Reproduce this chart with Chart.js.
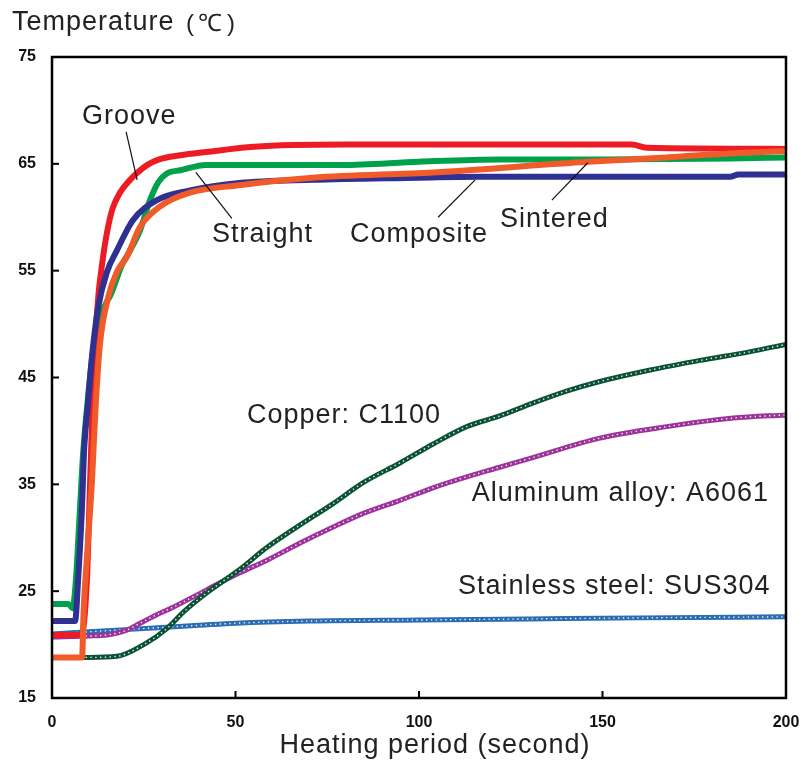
<!DOCTYPE html>
<html>
<head>
<meta charset="utf-8">
<script src="https://cdn.jsdelivr.net/npm/chart.js@4.4.1/dist/chart.umd.min.js"></script>
<style>
  html, body { margin: 0; padding: 0; background: #fff; }
  #wrap { width: 808px; height: 763px; }
</style>
</head>
<body>
<div id="wrap"><canvas id="tempChart" width="808" height="763"></canvas></div>
<script>
// data (time in s, temperature in deg C)
const grooveT = [0, 8, 9.5, 10.4, 11, 11.7, 12.6, 13.6, 15, 16.5, 18.5, 21, 23, 26, 29, 35, 42, 55, 80, 120, 158, 162, 200];
const grooveY = [20.9, 20.9, 26, 35.4, 41.7, 47.9, 52.5, 55.5, 58.6, 60.8, 62.3, 63.4, 64.1, 64.9, 65.4, 65.8, 66.1, 66.6, 66.8, 66.8, 66.8, 66.5, 66.4];

const straightT = [0, 4.5, 5.6, 6.5, 7.5, 8.5, 9.5, 11, 13, 16.3, 19, 21.3, 24, 26.7, 29, 31.3, 35, 42, 60, 79, 100, 122, 150, 185, 200];
const straightY = [23.8, 23.8, 23.4, 26, 32, 38, 42, 47, 50.5, 53, 55.5, 56.9, 58.8, 61.6, 63.3, 64.1, 64.4, 64.9, 64.9, 64.9, 65.2, 65.4, 65.4, 65.5, 65.6];

const compositeT = [0, 6.3, 7.1, 8.1, 8.8, 9.7, 11, 12.6, 15, 17.7, 22, 28.6, 37.6, 51, 71, 100, 116, 150, 185, 187, 200];
const compositeY = [22.2, 22.2, 26, 32.3, 38.5, 42.2, 47.3, 51.6, 54.9, 56.9, 59.7, 61.6, 62.5, 63.2, 63.5, 63.7, 63.8, 63.8, 63.8, 64.0, 64.0];

const sinteredT = [0, 8.2, 8.6, 9.7, 10.9, 11.8, 13, 15.3, 17.7, 20.4, 24, 29.4, 37.6, 51, 71, 104, 146, 167.5, 185.5, 200];
const sinteredY = [18.8, 18.8, 23, 29.1, 35.4, 41.7, 47.9, 52.5, 54.9, 56.3, 59.1, 61, 62.3, 63, 63.7, 64.2, 65.2, 65.6, 66.0, 66.2];

const copperT = [0, 10, 17.7, 25, 31.3, 36, 42, 51, 58.6, 67.6, 76.6, 85, 94.8, 104, 113, 122, 131, 140, 149, 163, 176.6, 190, 200];
const copperY = [18.8, 18.8, 18.9, 20, 21.5, 23.1, 24.8, 27, 29.1, 31.2, 33.2, 35.2, 37, 38.8, 40.4, 41.4, 42.6, 43.7, 44.6, 45.7, 46.6, 47.4, 48.1];

const aluminumT = [0, 10, 15, 20, 24, 28, 33, 42, 51, 58.6, 67.6, 76.6, 85, 94.8, 104, 113, 122, 131, 149, 167.5, 185.6, 200];
const aluminumY = [20.7, 20.8, 20.9, 21.3, 22, 22.7, 23.5, 25.1, 26.7, 27.9, 29.5, 31, 32.3, 33.5, 34.7, 35.7, 36.6, 37.5, 39.3, 40.4, 41.2, 41.5];

const stainlessT = [0, 10, 20, 30, 40, 50, 70, 100, 130, 160, 200];
const stainlessY = [21.0, 21.2, 21.4, 21.6, 21.8, 22.0, 22.2, 22.3, 22.4, 22.5, 22.6];

const xTicks = [0, 50, 100, 150, 200];
const yTicks = [15, 25, 35, 45, 55, 65, 75];

// labels on the plot: text, anchor (data coords), optional leader line
const plotLabels = [
  { text: "Groove", x: 8.2, y: 69.4, line: [20.2, 68.0, 23.2, 63.5] },
  { text: "Straight", x: 43.6, y: 58.4, line: [39.2, 64.2, 49.0, 59.9] },
  { text: "Composite", x: 81.2, y: 58.4, line: [115.3, 63.5, 105.2, 60.0] },
  { text: "Sintered", x: 122.1, y: 59.8, line: [146.0, 65.1, 136.2, 61.6] },
  { text: "Copper: C1100", x: 53.1, y: 41.4 },
  { text: "Aluminum alloy: A6061", x: 114.4, y: 34.1 },
  { text: "Stainless steel: SUS304", x: 110.6, y: 25.4 }
];

const FONT = "'Liberation Sans', Arial, Helvetica, sans-serif";

function pts(ts, ys) {
  return ts.map((t, i) => ({ x: t, y: ys[i] }));
}

function mainLine(label, ts, ys, color, order) {
  return {
    label: label,
    data: pts(ts, ys),
    borderColor: color,
    borderWidth: 6,
    pointRadius: 0,
    cubicInterpolationMode: "monotone",
    order: order
  };
}

// material curves: thick coloured line with a white dotted line inside
function dottedLine(label, ts, ys, color, order) {
  return [
    {
      label: label,
      data: pts(ts, ys),
      borderColor: color,
      borderWidth: 5,
      pointRadius: 0,
      cubicInterpolationMode: "monotone",
      order: order + 1
    },
    {
      label: label + " dots",
      data: pts(ts, ys),
      borderColor: "rgba(255,255,255,0.9)",
      borderWidth: 1.4,
      borderDash: [1.4, 3.4],
      pointRadius: 0,
      cubicInterpolationMode: "monotone",
      order: order
    }
  ];
}

const frameAndLabels = {
  id: "frameAndLabels",
  afterDraw(chart) {
    const c = chart.ctx;
    const a = chart.chartArea;
    const xs = chart.scales.x;
    const ys = chart.scales.y;
    c.save();

    // inward tick marks
    c.strokeStyle = "#000";
    c.lineWidth = 2;
    xTicks.slice(1, -1).forEach(v => {
      const px = xs.getPixelForValue(v);
      c.beginPath();
      c.moveTo(px, a.bottom);
      c.lineTo(px, a.bottom - 7);
      c.stroke();
    });
    yTicks.slice(1, -1).forEach(v => {
      const py = ys.getPixelForValue(v);
      c.beginPath();
      c.moveTo(a.left, py);
      c.lineTo(a.left + 7, py);
      c.stroke();
    });

    // box
    c.lineWidth = 2.5;
    c.strokeRect(a.left, a.top, a.right - a.left, a.bottom - a.top);

    // leader lines + labels
    c.lineWidth = 1.2;
    c.strokeStyle = "#111";
    c.fillStyle = "#222";
    c.font = "27px " + FONT;
    c.letterSpacing = "1px";
    c.textBaseline = "middle";
    c.textAlign = "left";
    plotLabels.forEach(l => {
      if (l.line) {
        c.beginPath();
        c.moveTo(xs.getPixelForValue(l.line[0]), ys.getPixelForValue(l.line[1]));
        c.lineTo(xs.getPixelForValue(l.line[2]), ys.getPixelForValue(l.line[3]));
        c.stroke();
      }
      c.fillText(l.text, xs.getPixelForValue(l.x), ys.getPixelForValue(l.y));
    });

    // axis titles
    c.fillText("Temperature", 12, 23);
    c.font = "24px " + FONT;
    c.letterSpacing = "0px";
    c.fillText("(", 186, 24);
    c.fillText("\u2103", 198, 24);
    c.fillText(")", 227, 24);
    c.font = "27px " + FONT;
    c.letterSpacing = "1px";
    c.textAlign = "center";
    c.fillText("Heating period (second)", (a.left + a.right) / 2 + 16, 746);
    c.restore();
  }
};

const ctx = document.getElementById("tempChart").getContext("2d");
const tempChart = new Chart(ctx, {
  type: "line",
  data: {
    datasets: [
      mainLine("Sintered", sinteredT, sinteredY, "#f15a29", 1),
      mainLine("Composite", compositeT, compositeY, "#2e3192", 2),
      mainLine("Groove", grooveT, grooveY, "#ed1c24", 3),
      mainLine("Straight", straightT, straightY, "#00a14b", 4),
      ...dottedLine("Copper: C1100", copperT, copperY, "#0b5234", 6),
      ...dottedLine("Aluminum alloy: A6061", aluminumT, aluminumY, "#9b339b", 8),
      ...dottedLine("Stainless steel: SUS304", stainlessT, stainlessY, "#2b6cb3", 10)
    ]
  },
  options: {
    responsive: false,
    animation: false,
    layout: { padding: { top: 57, right: 22, left: 0, bottom: 0 } },
    plugins: {
      legend: { display: false },
      tooltip: { enabled: false }
    },
    scales: {
      x: {
        type: "linear",
        min: 0,
        max: 200,
        afterBuildTicks: s => { s.ticks = xTicks.map(v => ({ value: v })); },
        afterFit: s => { s.height = 65; s.paddingLeft = 0; s.paddingRight = 0; },
        grid: { display: false, drawTicks: false },
        border: { display: false },
        ticks: { color: "#111", padding: 15, maxRotation: 0, font: { family: FONT, size: 16, weight: "bold" } }
      },
      y: {
        min: 15,
        max: 75,
        afterBuildTicks: s => { s.ticks = yTicks.map(v => ({ value: v })); },
        afterFit: s => { s.width = 52; s.paddingTop = 0; s.paddingBottom = 0; },
        grid: { display: false, drawTicks: false },
        border: { display: false },
        ticks: { color: "#111", padding: 16, font: { family: FONT, size: 16, weight: "bold" } }
      }
    }
  },
  plugins: [frameAndLabels]
});
</script>
</body>
</html>
